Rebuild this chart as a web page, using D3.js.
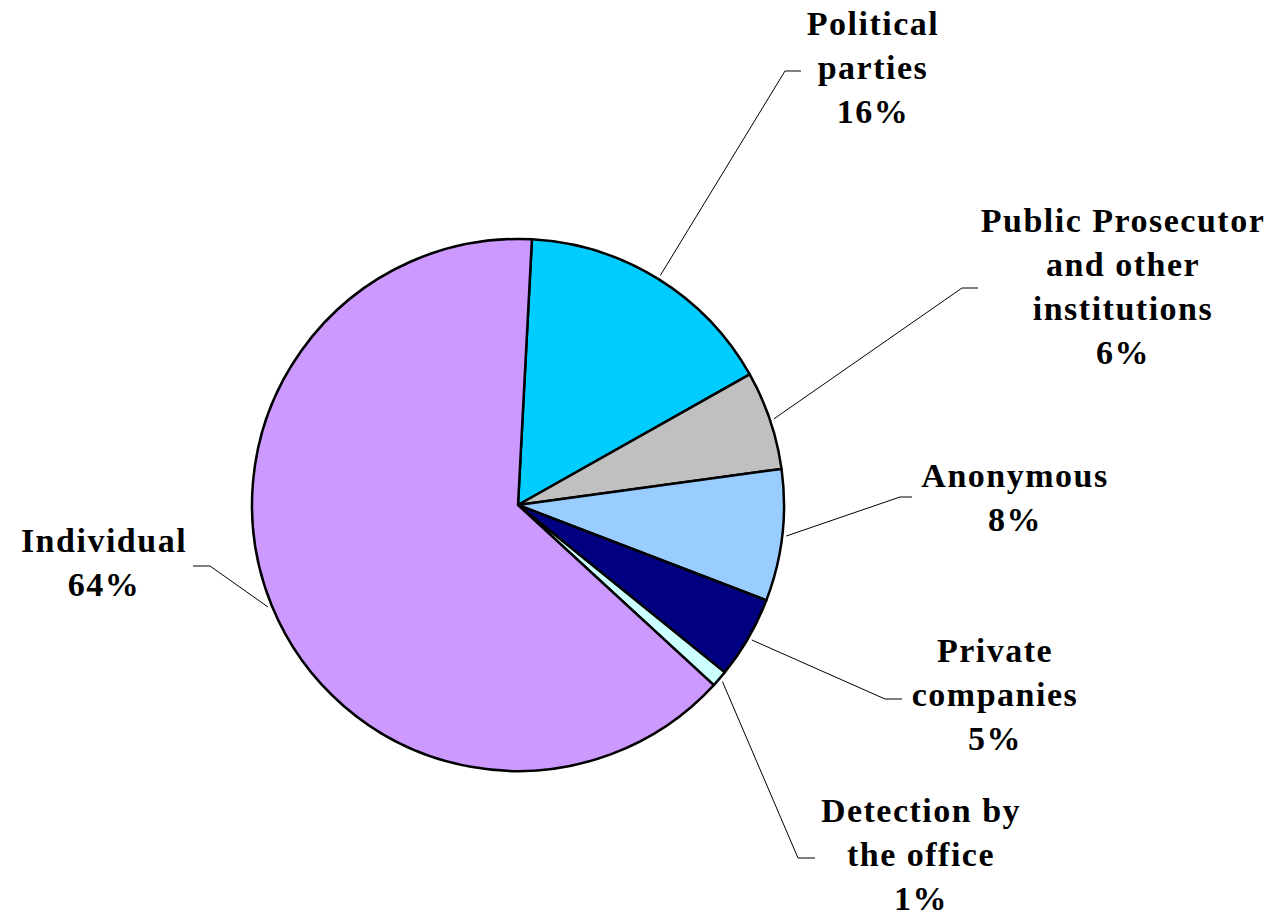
<!DOCTYPE html>
<html>
<head>
<meta charset="utf-8">
<script src="https://cdn.jsdelivr.net/npm/d3@7"></script>
<style>
  html, body { margin: 0; padding: 0; background: #ffffff; }
  svg { display: block; }
  .lbl { font-family: "Liberation Serif", "Times New Roman", serif; font-weight: bold; font-size: 34px; fill: #000; letter-spacing: 1.5px; }
</style>
</head>
<body>
<svg id="chart" width="1269" height="918"></svg>
<script>
// Sources of reported cases, share of total (%)
const categories = ["Political parties", "Public Prosecutor and other institutions", "Anonymous", "Private companies", "Detection by the office", "Individual"];
const shares = [16, 6, 8, 5, 1, 64];
const sliceColors = ["#00CCFF", "#C0C0C0", "#99CCFF", "#000080", "#CCFFFF", "#CC99FF"];
const labelLines = [
  ["Political", "parties"],
  ["Public Prosecutor", "and other", "institutions"],
  ["Anonymous"],
  ["Private", "companies"],
  ["Detection by", "the office"],
  ["Individual"]
];

// Label placement: text centre x, first baseline y, leader elbow and end
const labelLayout = [
  { x: 873,  y: 35,  elbowX: 785, elbowY: 71,  endX: 801 },
  { x: 1123, y: 232, elbowX: 962, elbowY: 288, endX: 978 },
  { x: 1015, y: 487, elbowX: 900, elbowY: 497, endX: 912 },
  { x: 995,  y: 662, elbowX: 885, elbowY: 699, endX: 902 },
  { x: 921,  y: 822, elbowX: 798, elbowY: 858, endX: 815 },
  { x: 104,  y: 552, elbowX: 210, elbowY: 566, endX: 193 }
];

const cx = 518, cy = 505, radius = 266;
const startOffset = 3 * Math.PI / 180;
const lineGap = 44;

const svg = d3.select("#chart");
const g = svg.append("g").attr("transform", `translate(${cx},${cy})`);

const data = categories.map((c, i) => ({ name: c, value: shares[i], i }));

const pie = d3.pie()
  .value(d => d.value)
  .sort(null)
  .startAngle(startOffset)
  .endAngle(startOffset + 2 * Math.PI);

const arcs = pie(data);
const arc = d3.arc().innerRadius(0).outerRadius(radius);

g.selectAll("path.slice")
  .data(arcs)
  .join("path")
  .attr("class", "slice")
  .attr("d", arc)
  .attr("fill", d => sliceColors[d.data.i])
  .attr("stroke", "#000")
  .attr("stroke-width", 2.5)
  .attr("stroke-linejoin", "round");

// Leader lines from slice edge to label
const leaders = svg.append("g");
arcs.forEach(a => {
  const mid = (a.startAngle + a.endAngle) / 2;
  const r0 = radius + 4;
  const sx = cx + r0 * Math.sin(mid);
  const sy = cy - r0 * Math.cos(mid);
  const L = labelLayout[a.data.i];
  leaders.append("polyline")
    .attr("points", `${sx},${sy} ${L.elbowX},${L.elbowY} ${L.endX},${L.elbowY}`)
    .attr("fill", "none")
    .attr("stroke", "#000")
    .attr("stroke-width", 1);
});

// Category labels with percentage
const labels = svg.append("g");
arcs.forEach(a => {
  const i = a.data.i;
  const L = labelLayout[i];
  const lines = labelLines[i].concat([`${shares[i]}%`]);
  const t = labels.append("text")
    .attr("class", "lbl")
    .attr("text-anchor", "middle");
  lines.forEach((s, k) => {
    t.append("tspan")
      .attr("x", L.x)
      .attr("y", L.y + k * lineGap)
      .text(s);
  });
});
</script>
</body>
</html>
